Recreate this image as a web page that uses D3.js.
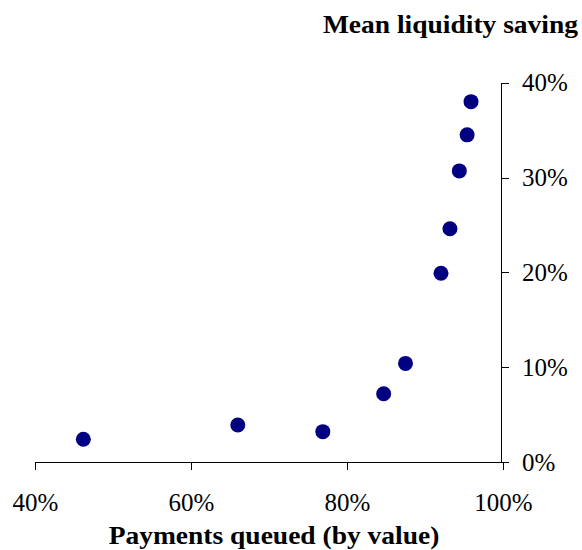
<!DOCTYPE html>
<html>
<head>
<meta charset="utf-8">
<script src="https://cdn.jsdelivr.net/npm/d3@7/dist/d3.min.js"></script>
<style>
  body { margin: 0; background: #fff; }
  svg { display: block; }
  .axis text { font-family: "Liberation Serif", "Times New Roman", serif; font-size: 25px; fill: #000; }
  .axis path, .axis line { stroke: #000; stroke-width: 1px; shape-rendering: crispEdges; }
  .title { font-family: "Liberation Serif", "Times New Roman", serif; font-weight: bold; font-size: 25px; fill: #000; }
</style>
</head>
<body>
<script>
// Share of payments queued (by value) vs. mean liquidity saving
const queued = [0.462, 0.660, 0.769, 0.847, 0.875, 0.9205, 0.932, 0.944, 0.954, 0.959];
const saving = [0.024, 0.039, 0.032, 0.072, 0.104, 0.199, 0.246, 0.307, 0.345, 0.380];
const xTicks = [0.4, 0.6, 0.8, 1.0];
const yTicks = [0, 0.1, 0.2, 0.3, 0.4];

const width = 582, height = 550;
const svg = d3.select("body").append("svg")
  .attr("width", width).attr("height", height);

const x = d3.scaleLinear().domain([0.4, 1.0]).range([35, 503]);
const y = d3.scaleLinear().domain([0, 0.4]).range([462, 82.7]);
const pct = d3.format(".0%");

// x axis along the bottom
svg.append("g").attr("class", "axis")
  .attr("transform", `translate(0,${y(0)})`)
  .call(d3.axisBottom(x).tickValues(xTicks).tickFormat(pct)
    .tickSize(8).tickSizeOuter(0).tickPadding(23));

// y axis on the right, ticks pointing outward
svg.append("g").attr("class", "axis")
  .attr("transform", `translate(${x(1.0) - 2},0)`)
  .call(d3.axisRight(y).tickValues(yTicks).tickFormat(pct)
    .tickSize(8).tickSizeOuter(0).tickPadding(13));

svg.selectAll(".axis .domain").attr("fill", "none");

// data points
svg.append("g").selectAll("ellipse")
  .data(queued.map((q, i) => [q, saving[i]]))
  .join("ellipse")
  .attr("cx", d => x(d[0]))
  .attr("cy", d => y(d[1]))
  .attr("rx", 7.5).attr("ry", 7.5)
  .attr("fill", "#000080");

// axis titles (set slightly wide)
svg.append("g").attr("transform", "translate(578,33.3) scale(1.1,1)")
  .append("text").attr("class", "title")
  .attr("text-anchor", "end")
  .text("Mean liquidity saving");

svg.append("g").attr("transform", "translate(274,543.5) scale(1.1,1)")
  .append("text").attr("class", "title")
  .attr("text-anchor", "middle")
  .text("Payments queued (by value)");
</script>
</body>
</html>
